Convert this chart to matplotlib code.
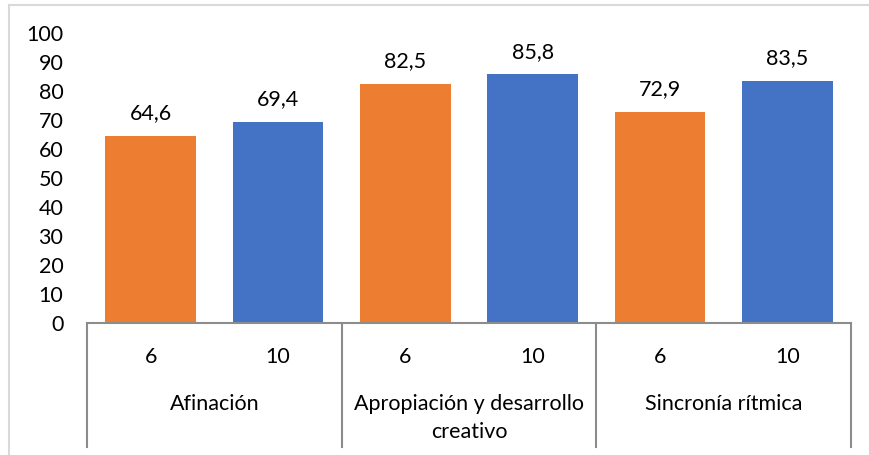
import matplotlib
matplotlib.use('Agg')
import matplotlib.pyplot as plt
import numpy as np
from matplotlib.lines import Line2D

plt.rcParams['font.family'] = ['Lato', 'DejaVu Sans']

groups = ['Afinación', 'Apropiación y desarrollo\ncreativo', 'Sincronía rítmica']
grades = ['6', '10']
vals_6 = [64.6, 82.5, 72.9]
vals_10 = [69.4, 85.8, 83.5]

ORANGE = '#ED7D31'
BLUE = '#4472C4'
AXIS = '#8C8C8C'
FS = 15.5

fig = plt.figure(figsize=(8.7, 4.55), dpi=100)
ax = fig.add_axes([87/870, (455-323)/455, (851-87)/870, 290/455])

# interleave 6 / 10 bars per group
x = np.arange(len(groups) * 2)
heights = [v for pair in zip(vals_6, vals_10) for v in pair]
colors = [ORANGE, BLUE] * len(groups)
bars = ax.bar(x, heights, width=0.71, color=colors)

for xi, h in zip(x, heights):
    ax.annotate(f'{h:.1f}'.replace('.', ','), (xi, h), xytext=(0, 9),
                textcoords='offset points', ha='center', va='bottom', fontsize=FS)

ax.set_xlim(-0.5, len(x) - 0.5)
ax.set_ylim(0, 100)
ax.set_yticks(np.arange(0, 101, 10))
ax.tick_params(axis='y', length=0, pad=17, labelsize=FS)
ax.set_xticks([])
for s in ['top', 'right', 'left']:
    ax.spines[s].set_visible(False)
ax.spines['bottom'].set_color(AXIS)
ax.spines['bottom'].set_linewidth(1.5)

# multi-level category axis
trans = ax.get_xaxis_transform()
for sx in np.arange(-0.5, len(x), 2):
    ax.add_line(Line2D([sx, sx], [0, -124/290], transform=trans, color=AXIS,
                       lw=1.5, clip_on=False))
for xi in x:
    ax.text(xi, -34/290, grades[xi % 2], transform=trans, ha='center',
            va='center', fontsize=FS)
for gi, g in enumerate(groups):
    ax.text(2*gi + 0.5, -71/290, g, transform=trans, ha='center', va='top',
            fontsize=FS, linespacing=1.5)

# outer chart frame
fig.add_artist(Line2D([9/870, 1], [1 - 5/455, 1 - 5/455], color='#D9D9D9', lw=1.5))
fig.add_artist(Line2D([9/870, 9/870], [0, 1 - 5/455], color='#D9D9D9', lw=1.5))

fig.savefig('out.png', dpi=100)
